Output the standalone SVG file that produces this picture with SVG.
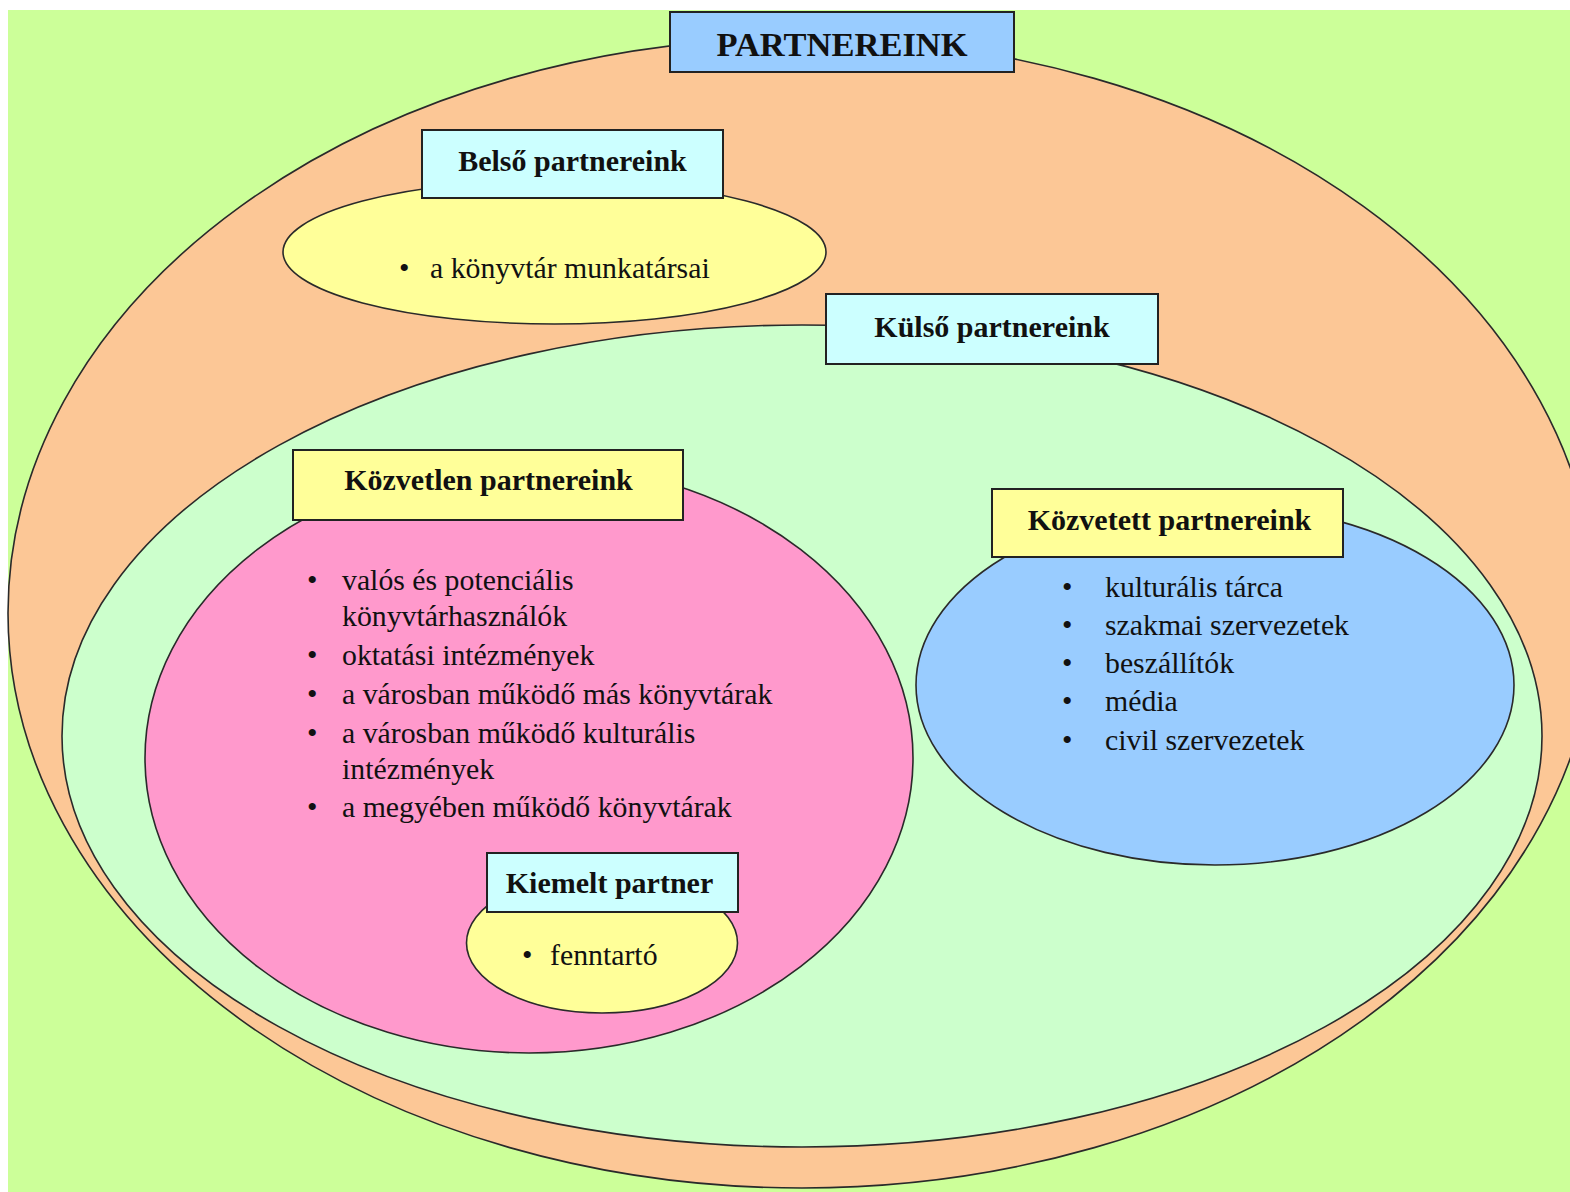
<svg xmlns="http://www.w3.org/2000/svg" width="1570" height="1192" viewBox="0 0 1570 1192">
<style>
.shape{stroke:#2a2a2a;stroke-width:1.6}
.box{stroke:#222;stroke-width:2}
.h{font-family:"Liberation Serif","Times New Roman",serif;font-weight:bold;font-size:30px;fill:#111;text-anchor:middle}
.big{font-size:34.5px}
.t{font-family:"Liberation Serif","Times New Roman",serif;font-size:29.8px;fill:#111}
</style>
<rect x="0" y="0" width="1570" height="1192" fill="#ffffff"/>
<rect x="8" y="10" width="1562" height="1182" fill="#ccff99"/>
<g id="partnereink">
<ellipse class="shape" cx="802" cy="613" rx="794" ry="575" fill="#fcc796"/>
<rect class="box" x="670" y="12" width="344" height="60" fill="#99ccff"/>
<text class="h big" x="842" y="56">PARTNEREINK</text>
</g>
<g id="belso">
<ellipse class="shape" cx="554.5" cy="252" rx="271.5" ry="72" fill="#ffff99"/>
<rect class="box" x="422" y="130" width="301" height="68" fill="#ccffff"/>
<text class="h" x="572.5" y="171">Belső partnereink</text>
<text class="t" x="399" y="278">•</text>
<text class="t" x="430" y="278">a könyvtár munkatársai</text>
</g>
<g id="kulso">
<ellipse class="shape" cx="802" cy="736" rx="740" ry="411" fill="#ccffcc"/>
<rect class="box" x="826" y="294" width="332" height="70" fill="#ccffff"/>
<text class="h" x="992" y="337">Külső partnereink</text>
</g>
<g id="kozvetlen">
<ellipse class="shape" cx="529" cy="758" rx="384" ry="295" fill="#ff99cc"/>
<rect class="box" x="293" y="450" width="390" height="70" fill="#ffff99"/>
<text class="h" x="488.5" y="490">Közvetlen partnereink</text>
<text class="t" x="307" y="590">•</text><text class="t" x="342" y="590">valós és potenciális</text>
<text class="t" x="342" y="626">könyvtárhasználók</text>
<text class="t" x="307" y="665">•</text><text class="t" x="342" y="665">oktatási intézmények</text>
<text class="t" x="307" y="704">•</text><text class="t" x="342" y="704">a városban működő más könyvtárak</text>
<text class="t" x="307" y="743">•</text><text class="t" x="342" y="743">a városban működő kulturális</text>
<text class="t" x="342" y="779">intézmények</text>
<text class="t" x="307" y="817">•</text><text class="t" x="342" y="817">a megyében működő könyvtárak</text>
</g>
<g id="kozvetett">
<ellipse class="shape" cx="1215" cy="685" rx="299" ry="180" fill="#99ccff"/>
<rect class="box" x="992" y="489" width="351" height="68" fill="#ffff99"/>
<text class="h" x="1169.5" y="530">Közvetett partnereink</text>
<text class="t" x="1062" y="597">•</text><text class="t" x="1105" y="597">kulturális tárca</text>
<text class="t" x="1062" y="635">•</text><text class="t" x="1105" y="635">szakmai szervezetek</text>
<text class="t" x="1062" y="673">•</text><text class="t" x="1105" y="673">beszállítók</text>
<text class="t" x="1062" y="711">•</text><text class="t" x="1105" y="711">média</text>
<text class="t" x="1062" y="750">•</text><text class="t" x="1105" y="750">civil szervezetek</text>
</g>
<g id="kiemelt">
<ellipse class="shape" cx="602" cy="943" rx="135.5" ry="70" fill="#ffff99"/>
<rect class="box" x="487" y="853" width="251" height="59" fill="#ccffff"/>
<text class="h" x="609.5" y="893">Kiemelt partner</text>
<text class="t" x="522" y="965">•</text><text class="t" x="550" y="965">fenntartó</text>
</g>
<g id="connectors"/>
</svg>
